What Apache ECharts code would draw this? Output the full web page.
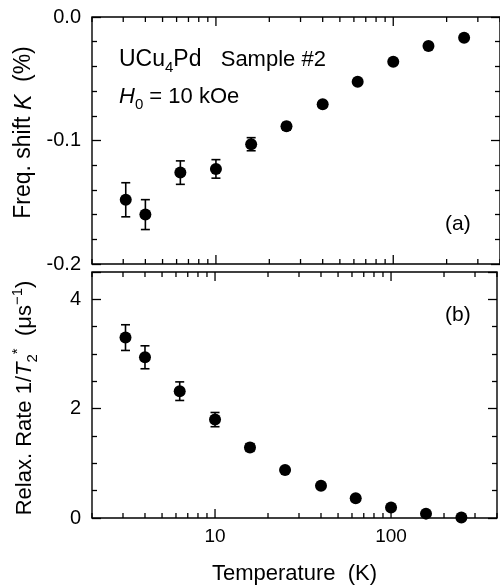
<!DOCTYPE html>
<html>
<head>
<meta charset="utf-8">
<script src="https://cdn.jsdelivr.net/npm/echarts@6/dist/echarts.min.js"></script>
<style>
html,body{margin:0;padding:0;background:#fff;}
#chart{width:500px;height:586px;}
</style>
</head>
<body>
<div id="chart"></div>
<script>
// ---- data ----
const temperatures = [3.1, 4.0, 6.3, 10, 15.8, 25, 40, 63, 100, 158, 251];
const freqShift    = [-0.148, -0.160, -0.126, -0.123, -0.103, -0.0885, -0.0707, -0.0524, -0.0362, -0.0235, -0.0168];
const freqShiftErr = [0.0138, 0.0121, 0.0095, 0.0075, 0.0053, 0.003, 0.002, 0.002, 0.002, 0.002, 0.002];
const relaxRate    = [3.30, 2.94, 2.32, 1.80, 1.29, 0.877, 0.588, 0.362, 0.19, 0.08, 0.01];
const relaxRateErr = [0.235, 0.21, 0.17, 0.13, 0.07, 0.04, 0.03, 0.03, 0.03, 0.03, 0.03];
const xTickValues  = [2,3,4,5,6,7,8,9,10,20,30,40,50,60,70,80,90,100,200,300,400];
const xMajorTicks  = [10, 100];
const topYRange    = [-0.2, 0];
const botYRange    = [0, 4.5];
const botYLabels   = [0, 2, 4];

const FONT = 'Liberation Sans, Arial, Helvetica, sans-serif';
const chart = echarts.init(document.getElementById('chart'), null, {renderer: 'canvas'});

function isMajor(t) { return xMajorTicks.some(m => Math.abs(m - t) < 1e-6); }

function tickRender(params, api) {
  const t = api.value(0);
  const pb = api.coord([t, api.value(1)]);
  const pt = api.coord([t, api.value(2)]);
  const len = isMajor(t) ? 9 : 5;
  const st = {stroke: '#000', lineWidth: 1.3};
  return {type: 'group', children: [
    {type: 'line', shape: {x1: pb[0], y1: pb[1], x2: pb[0], y2: pb[1] - len}, style: st},
    {type: 'line', shape: {x1: pt[0], y1: pt[1], x2: pt[0], y2: pt[1] + len}, style: st}
  ]};
}

function errRender(params, api) {
  const t = api.value(0);
  const lo = api.coord([t, api.value(1)]);
  const hi = api.coord([t, api.value(2)]);
  const w = 4.5;
  const st = {stroke: '#000', lineWidth: 1.6};
  return {type: 'group', children: [
    {type: 'line', shape: {x1: lo[0], y1: lo[1], x2: hi[0], y2: hi[1]}, style: st},
    {type: 'line', shape: {x1: lo[0] - w, y1: lo[1], x2: lo[0] + w, y2: lo[1]}, style: st},
    {type: 'line', shape: {x1: hi[0] - w, y1: hi[1], x2: hi[0] + w, y2: hi[1]}, style: st}
  ]};
}

function xAxisCfg(gridIndex, withLabels) {
  return {
    type: 'log', logBase: 10, gridIndex: gridIndex, min: 2, max: 400,
    axisLine: {show: false}, axisTick: {show: false}, splitLine: {show: false}, minorTick: {show: false},
    axisLabel: withLabels ? {
      show: true, color: '#000', fontFamily: FONT, fontSize: 19, margin: 9,
      formatter: v => {
        const l = Math.log10(v);
        const r = Math.round(l);
        return (Math.abs(l - r) < 1e-6 && (r === 1 || r === 2)) ? String(Math.round(v)) : '';
      }
    } : {show: false},
    name: withLabels ? 'Temperature  (K)' : '',
    nameLocation: 'middle', nameGap: 45,
    nameTextStyle: {color: '#000', fontFamily: FONT, fontSize: 22}
  };
}

function makeRich(fs) {
  return {
    n: {fontFamily: FONT, fontSize: fs, lineHeight: fs + 8, color: '#000'},
    i: {fontFamily: FONT, fontSize: fs, lineHeight: fs + 8, fontStyle: 'italic', color: '#000'},
    sub: {fontFamily: FONT, fontSize: Math.round(fs * 0.68), lineHeight: Math.round(fs * 0.62), verticalAlign: 'bottom', color: '#000'},
    sup: {fontFamily: FONT, fontSize: Math.round(fs * 0.68), lineHeight: Math.round(fs * 0.8), verticalAlign: 'top', color: '#000'}
  };
}

function yAxisCfg(gridIndex, range, interval, minorSplit, left, name, fmt, fs, pad) {
  return {
    type: 'value', gridIndex: gridIndex, position: left ? 'left' : 'right',
    min: range[0], max: range[1], interval: interval,
    axisLine: {show: false},
    axisTick: {show: true, inside: true, length: 9, lineStyle: {color: '#000', width: 1.3}},
    minorTick: {show: true, splitNumber: minorSplit, length: 5, lineStyle: {color: '#000', width: 1.3}},
    splitLine: {show: false}, minorSplitLine: {show: false},
    axisLabel: left ? {show: true, color: '#000', fontFamily: FONT, fontSize: 20, margin: 11, formatter: fmt} : {show: false},
    name: left ? name : '',
    nameLocation: 'middle', nameRotate: 90, nameGap: 52,
    nameTextStyle: {color: '#000', fontFamily: FONT, fontSize: fs || 20, rich: makeRich(fs || 20), padding: pad || 0}
  };
}

const option = {
  animation: false,
  backgroundColor: '#fff',
  grid: [
    {left: 92, top: 17, width: 411, height: 247, show: true, borderColor: '#000', borderWidth: 1.4, backgroundColor: 'transparent'},
    {left: 92, top: 272, width: 411, height: 246, show: true, borderColor: '#000', borderWidth: 1.4, backgroundColor: 'transparent'}
  ],
  xAxis: [xAxisCfg(0, false), xAxisCfg(1, true)],
  yAxis: [
    yAxisCfg(0, topYRange, 0.1, 5, true, '{n|Freq. shift }{i|K}{n|  (%)}', v => v.toFixed(1), 23, [0, 0, 0, 16]),
    yAxisCfg(0, topYRange, 0.1, 5, false),
    yAxisCfg(1, botYRange, 2, 4, true, '{n|Relax. Rate 1/}{i|T}{sub|2}{sup|*}{n|  (μs}{sup|−1}{n|)}',
      v => botYLabels.some(b => Math.abs(b - v) < 1e-9) ? String(Math.round(v)) : '', 22, [0, 6, 0, 0]),
    yAxisCfg(1, botYRange, 2, 4, false)
  ],
  graphic: [
    {type: 'text', x: 119, y: 60, style: {
      text: '{a|UCu}{s|4}{a|Pd}{b|  Sample #2}', verticalAlign: 'middle',
      rich: {
        a: {fontFamily: FONT, fontSize: 23, lineHeight: 30, color: '#000'},
        s: {fontFamily: FONT, fontSize: 15, lineHeight: 14, verticalAlign: 'bottom', color: '#000'},
        b: {fontFamily: FONT, fontSize: 22, lineHeight: 30, color: '#000', padding: [0, 0, 0, 7]}
      }}},
    {type: 'text', x: 119, y: 97, style: {
      text: '{i|H}{s|0}{a| = 10 kOe}', verticalAlign: 'middle',
      rich: {
        a: {fontFamily: FONT, fontSize: 22, lineHeight: 30, color: '#000'},
        i: {fontFamily: FONT, fontSize: 22, lineHeight: 30, fontStyle: 'italic', color: '#000'},
        s: {fontFamily: FONT, fontSize: 15, lineHeight: 14, verticalAlign: 'bottom', color: '#000'}
      }}},
    {type: 'text', x: 445, y: 224, style: {
      text: '{a|(a)}', verticalAlign: 'middle',
      rich: {a: {fontFamily: FONT, fontSize: 21, lineHeight: 26, color: '#000'}}}},
    {type: 'text', x: 445, y: 315, style: {
      text: '{a|(b)}', verticalAlign: 'middle',
      rich: {a: {fontFamily: FONT, fontSize: 21, lineHeight: 26, color: '#000'}}}}
  ],
  series: [
    {type: 'custom', xAxisIndex: 0, yAxisIndex: 0, renderItem: tickRender, clip: false, silent: true,
     encode: {x: 0, y: [1, 2]}, data: xTickValues.map(t => [t, topYRange[0], topYRange[1]])},
    {type: 'custom', xAxisIndex: 1, yAxisIndex: 2, renderItem: tickRender, clip: false, silent: true,
     encode: {x: 0, y: [1, 2]}, data: xTickValues.map(t => [t, botYRange[0], botYRange[1]])},
    {type: 'custom', xAxisIndex: 0, yAxisIndex: 0, renderItem: errRender, clip: false, z: 3,
     encode: {x: 0, y: [1, 2]}, data: temperatures.map((t, i) => [t, freqShift[i] - freqShiftErr[i], freqShift[i] + freqShiftErr[i]])},
    {type: 'custom', xAxisIndex: 1, yAxisIndex: 2, renderItem: errRender, clip: false, z: 3,
     encode: {x: 0, y: [1, 2]}, data: temperatures.map((t, i) => [t, relaxRate[i] - relaxRateErr[i], relaxRate[i] + relaxRateErr[i]])},
    {type: 'scatter', xAxisIndex: 0, yAxisIndex: 0, symbol: 'circle', symbolSize: 12, z: 4,
     itemStyle: {color: '#000', opacity: 1}, data: temperatures.map((t, i) => [t, freqShift[i]])},
    {type: 'scatter', xAxisIndex: 1, yAxisIndex: 2, symbol: 'circle', symbolSize: 12, z: 4,
     itemStyle: {color: '#000', opacity: 1}, data: temperatures.map((t, i) => [t, relaxRate[i]])}
  ]
};
chart.setOption(option);
</script>
</body>
</html>
